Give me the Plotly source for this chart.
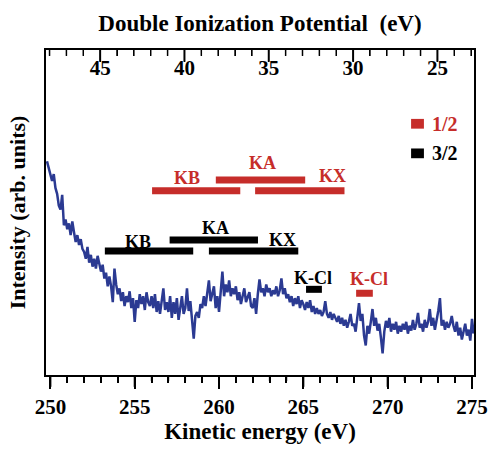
import plotly.graph_objects as go

# ---------------- data ----------------
ke_start = 249.8
ke_step = 0.1
intensity = [
    217, 210,
    202, 197, 204, 190, 184, 172, 168, 183, 152, 158,
    148, 154, 142, 156, 145, 135, 142, 132, 138, 128,
    125, 118, 130, 114, 122, 110, 118, 108, 121, 112,
    105, 112, 98, 104, 90, 100, 90, 74, 108, 92,
    82, 88, 75, 84, 70, 80, 74, 85, 68, 78,
    54, 76, 68, 82, 72, 80, 66, 84, 74, 70,
    80, 68, 82, 64, 75, 62, 78, 88, 66, 74,
    64, 80, 58, 74, 62, 78, 56, 70, 80, 62,
    68, 88, 65, 75, 52, 37, 60, 64, 58, 72,
    68, 80, 70, 84, 96, 75, 82, 90, 68, 80,
    64, 90, 105, 80, 92, 84, 96, 80, 88, 82,
    90, 76, 84, 72, 82, 88, 74, 80, 84, 70,
    68, 78, 62, 82, 97, 84, 88, 80, 92, 84,
    88, 80, 86, 82, 90, 80, 86, 98, 82, 88,
    78, 82, 74, 80, 70, 78, 72, 80, 68, 76,
    72, 66, 74, 68, 76, 64, 70, 62, 68, 62,
    66, 60, 64, 75, 62, 58, 64, 56, 62, 58,
    54, 60, 52, 58, 50, 56, 48, 54, 62, 50,
    52, 44, 60, 73, 55, 62, 40, 30, 50, 42,
    54, 67, 50, 58, 45, 52, 38, 22, 44, 55,
    48, 58, 44, 52, 46, 54, 42, 50, 44, 52,
    46, 54, 42, 50, 45, 56, 46, 52, 63, 48,
    52, 44, 56, 48, 54, 67, 50, 58, 46, 54,
    65, 78, 50, 56, 46, 54, 48, 52, 60, 50,
    44, 54, 40, 48, 36, 44, 52, 40, 46, 35,
    57, 42,
]
kinetic_energy = [round(ke_start + i * ke_step, 2) for i in range(len(intensity))]

# assignment bars (kinetic energy start/end, level), series "1/2" or "3/2"
bar_series = ["1/2", "1/2", "1/2", "1/2", "3/2", "3/2", "3/2", "3/2"]
bar_start = [256.03, 259.81, 262.14, 268.13, 253.23, 257.07, 259.40, 265.16]
bar_end = [261.26, 265.11, 267.44, 269.12, 258.47, 262.31, 264.70, 266.10]
bar_level = [187, 198, 187, 83, 126, 137, 126, 87]

label_text = ["KB", "KA", "KX", "K-Cl", "KB", "KA", "KX", "K-Cl"]
label_series = ["1/2", "1/2", "1/2", "1/2", "3/2", "3/2", "3/2", "3/2"]
label_ke = [258.12, 262.60, 266.74, 268.89, 255.21, 259.81, 263.77, 265.57]
label_level = [200, 215, 202, 97, 135, 149, 137, 98]

legend_names = ["1/2", "3/2"]

dip_offset = 297.95  # DIP = offset - KE
dip_ticks = [45, 40, 35, 30, 25]
ke_range = [249.74, 275.12]

# ---------------- styles ----------------
FONT = "Liberation Serif"
colors = {"1/2": "#c62d2a", "3/2": "#000000"}
line_blue = "#2b3a92"
PLOT_H = 330  # plot-area height in px (449 - top 50 - bottom 69)

fig = go.Figure()

fig.add_trace(go.Scatter(
    x=kinetic_energy, y=intensity, mode="lines",
    line=dict(color=line_blue, width=2.5), showlegend=False,
))

for s, x0, x1, lv in zip(bar_series, bar_start, bar_end, bar_level):
    fig.add_trace(go.Scatter(
        x=[x0, x1], y=[lv, lv], mode="lines",
        line=dict(color=colors[s], width=7), showlegend=False,
    ))

# invisible trace to activate the top axis
fig.add_trace(go.Scatter(
    x=dip_ticks, y=[0] * len(dip_ticks), xaxis="x2",
    mode="markers", marker=dict(opacity=0), showlegend=False,
))

for t, s, x, y in zip(label_text, label_series, label_ke, label_level):
    fig.add_annotation(
        x=x, y=y, text="<b>" + t + "</b>", showarrow=False, xref="x", yref="y",
        font=dict(family=FONT, size=18, color=colors[s]),
    )

# legend (swatch + text)
legend_rows = [0.773, 0.682]
for s, yp in zip(legend_names, legend_rows):
    fig.add_shape(
        type="rect", xref="paper", yref="paper",
        x0=0.853, x1=0.883, y0=yp - 0.015, y1=yp + 0.015,
        fillcolor=colors[s], line=dict(width=0),
    )
    fig.add_annotation(
        x=0.897, y=yp, xref="paper", yref="paper", xanchor="left", yanchor="middle",
        showarrow=False, text="<b>" + s + "</b>",
        font=dict(family=FONT, size=20, color=colors[s]),
    )

# tick marks (bottom: outside, every 1 eV with majors every 5; top: inside, DIP scale)
def ke_to_paper(k):
    return (k - ke_range[0]) / (ke_range[1] - ke_range[0])

major_len, minor_len = 12 / PLOT_H, 6 / PLOT_H
for k in range(250, 276):
    major = k % 5 == 0
    xp = ke_to_paper(k)
    fig.add_shape(
        type="line", xref="paper", yref="paper", x0=xp, x1=xp,
        y0=0, y1=-(major_len if major else minor_len),
        line=dict(color="black", width=2 if major else 1.5),
    )
dip_lo = int(dip_offset - ke_range[1]) + 1
dip_hi = int(dip_offset - ke_range[0])
for d in range(dip_lo, dip_hi + 1):
    major = d % 5 == 0
    xp = ke_to_paper(dip_offset - d)
    fig.add_shape(
        type="line", xref="paper", yref="paper", x0=xp, x1=xp,
        y0=1, y1=1 - (major_len if major else minor_len),
        line=dict(color="black", width=2 if major else 1.5),
    )

axis_font = dict(family=FONT, size=21, color="black")
title_font = dict(family=FONT, size=23, color="black")

fig.update_layout(
    width=500, height=449,
    margin=dict(l=46, r=18, t=50, b=69),
    plot_bgcolor="white",
    xaxis=dict(
        range=ke_range, tickmode="linear", tick0=250, dtick=5,
        ticks="outside", ticklen=12, tickwidth=2, tickcolor="black",
        showline=True, linecolor="black", linewidth=2,
        tickfont=axis_font, tickprefix="<b>", ticksuffix="</b>",
        minor=dict(dtick=1, ticks="outside", ticklen=6, tickcolor="black"),
        title=dict(text="<b>Kinetic energy (eV)</b>", font=title_font, standoff=2),
    ),
    xaxis2=dict(
        overlaying="x", side="top", anchor="y",
        range=[dip_offset - ke_range[0], dip_offset - ke_range[1]],
        tickmode="linear", tick0=25, dtick=5,
        ticks="inside", ticklen=12, tickcolor="black",
        ticklabelposition="inside", showline=True, linecolor="black", linewidth=2,
        tickfont=axis_font, tickprefix="<b>", ticksuffix="</b>",
        minor=dict(dtick=1, ticks="inside", ticklen=6, tickcolor="black"),
        title=dict(text="<b>Double Ionization Potential  (eV)</b>", font=title_font, standoff=18),
    ),
    yaxis=dict(
        range=[0, 330], tickvals=[], showline=True,
        linecolor="black", linewidth=2, mirror=True,
        title=dict(text="<b>Intensity (arb. units)</b>", font=dict(family=FONT, size=22, color="black"), standoff=10),
    ),
)

fig.write_html("out.html")
